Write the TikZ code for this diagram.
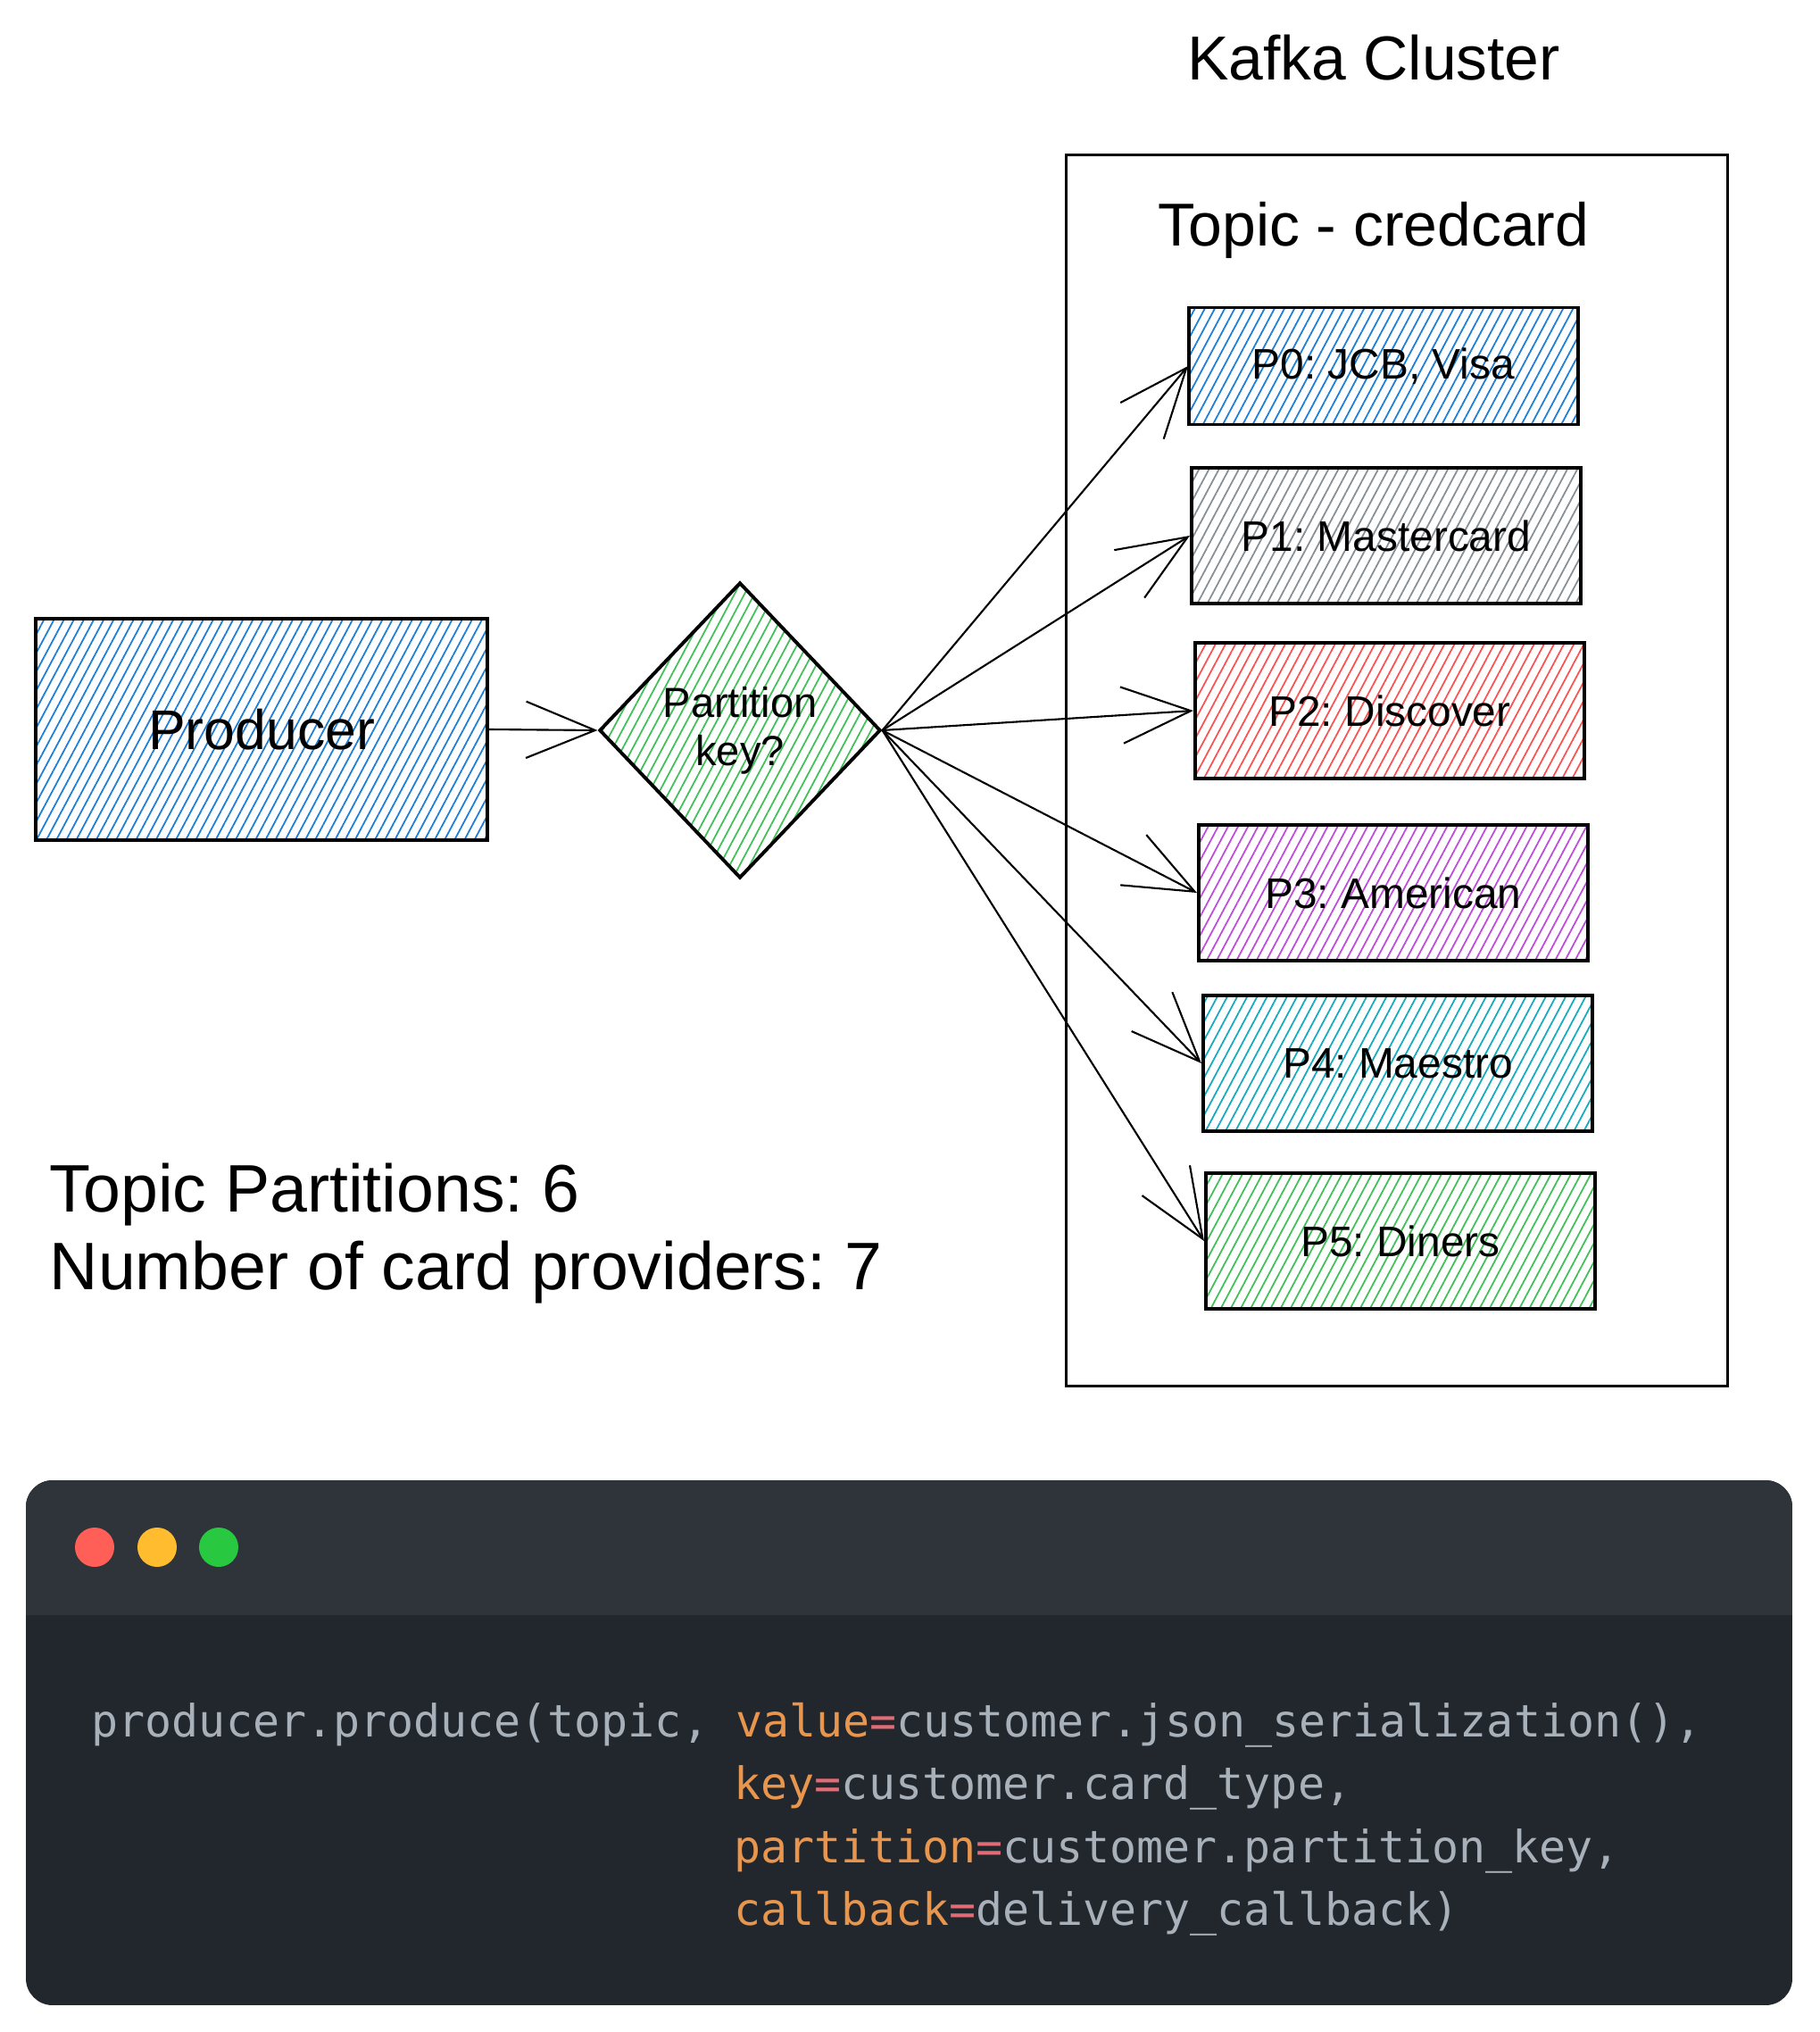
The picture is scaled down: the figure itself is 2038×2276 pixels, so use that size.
\documentclass[tikz,border=0pt]{standalone}
\usepackage{fontspec}
\setmainfont{Liberation Sans}
\newfontfamily\codefont{DejaVu Sans Mono}
\usetikzlibrary{shapes.geometric,arrows.meta,patterns.meta}
\frenchspacing

\definecolor{hblue}{HTML}{1C7ED6}
\definecolor{hgray}{HTML}{868E96}
\definecolor{hred}{HTML}{FA5252}
\definecolor{hviolet}{HTML}{BE4BDB}
\definecolor{hcyan}{HTML}{15AABF}
\definecolor{hgreen}{HTML}{40C057}
\definecolor{barbg}{HTML}{2F333A}
\definecolor{codebg}{HTML}{22262D}
\definecolor{codefg}{HTML}{A8B0BA}
\definecolor{codekey}{HTML}{E8964E}
\definecolor{codeeq}{HTML}{E06C75}
\definecolor{dotred}{HTML}{FF5F57}
\definecolor{dotyellow}{HTML}{FEBC2E}
\definecolor{dotgreen}{HTML}{28C840}

\begin{document}
\frenchspacing
\begin{tikzpicture}[x=0.01cm, y=-0.01cm,
    hatched/.style={draw, line width=1.1pt, inner sep=0pt,
      pattern={Lines[angle=62,distance=2.8pt,line width=0.5pt]}, pattern color=#1},
    partbox/.style={hatched=#1, minimum width=4.36cm, minimum height=1.52cm,
      font=\fontsize{13.6}{16}\selectfont},
    flow/.style={-{Straight Barb[length=22pt,width=18pt]}, line width=0.6pt},
    codeline/.style={anchor=base west, inner sep=0pt, text=codefg,
      font=\codefont\fontsize{14.2}{17}\selectfont},
    note/.style={anchor=base west, inner sep=0pt, font=\fontsize{21.4}{25}\selectfont}]
  \useasboundingbox (0,0) rectangle (2038,2276);

  % cluster and topic
  \node (kafka) at (1539,65) {\fontsize{19.8}{22}\selectfont Kafka Cluster};
  \node[draw, line width=0.9pt, inner sep=0pt, minimum width=7.4cm, minimum height=13.79cm]
    (cluster) at (1565,863) {};
  \node (topic) at (1539,258) {\fontsize{19.3}{22}\selectfont Topic - credcard};

  % partitions
  \node[partbox=hblue, minimum height=1.31cm] (p0) at (1550,410) {P0: JCB, Visa};
  \node[partbox=hgray] (p1) at (1553,600) {P1: Mastercard};
  \node[partbox=hred] (p2) at (1557,796) {P2: Discover};
  \node[partbox=hviolet] (p3) at (1561,1000) {P3: American};
  \node[partbox=hcyan] (p4) at (1566,1191) {P4: Maestro};
  \node[partbox=hgreen] (p5) at (1569,1390) {P5: Diners};

  % producer side
  \node[hatched=hblue, minimum width=5.05cm, minimum height=2.47cm]
    (producer) at (293,817) {\fontsize{17.8}{20}\selectfont Producer};
  \node[hatched=hgreen, diamond, minimum width=3.15cm, minimum height=3.31cm,
    align=center, font=\fontsize{13.4}{15.3}\selectfont]
    (key) at (829,818) {Partition\\key?};

  \begin{scope}
    \draw[flow] (producer.east) -- (key.west);
    \draw[flow] (key.east) -- (p0.west);
    \draw[flow] (key.east) -- (p1.west);
    \draw[flow] (key.east) -- (p2.west);
    \draw[flow] (key.east) -- (p3.west);
    \draw[flow] (key.east) -- (p4.west);
    \draw[flow] (key.east) -- (p5.west);
  \end{scope}

  \node[note] (nparts) at (55,1357) {Topic Partitions: 6};
  \node[note] (nprov) at (55,1444) {Number of card providers: 7};

  % code window
  \begin{scope}
    \clip[rounded corners=0.3cm] (29,1658) rectangle (2008,2246);
    \fill[codebg] (29,1658) rectangle (2008,2246);
    \fill[barbg] (29,1658) rectangle (2008,1809);
  \end{scope}
  \fill[dotred] (106,1733) circle (0.22cm);
  \fill[dotyellow] (176,1733) circle (0.22cm);
  \fill[dotgreen] (245,1733) circle (0.22cm);

  \node[codeline] (line1) at (102,1945)
    {producer.produce(topic, \textcolor{codekey}{value}\textcolor{codeeq}{=}customer.json\_serialization(),};
  \node[codeline] (line2) at (822,2015)
    {\textcolor{codekey}{key}\textcolor{codeeq}{=}customer.card\_type,};
  \node[codeline] (line3) at (822,2086)
    {\textcolor{codekey}{partition}\textcolor{codeeq}{=}customer.partition\_key,};
  \node[codeline] (line4) at (822,2156)
    {\textcolor{codekey}{callback}\textcolor{codeeq}{=}delivery\_callback)};
\end{tikzpicture}
\end{document}
